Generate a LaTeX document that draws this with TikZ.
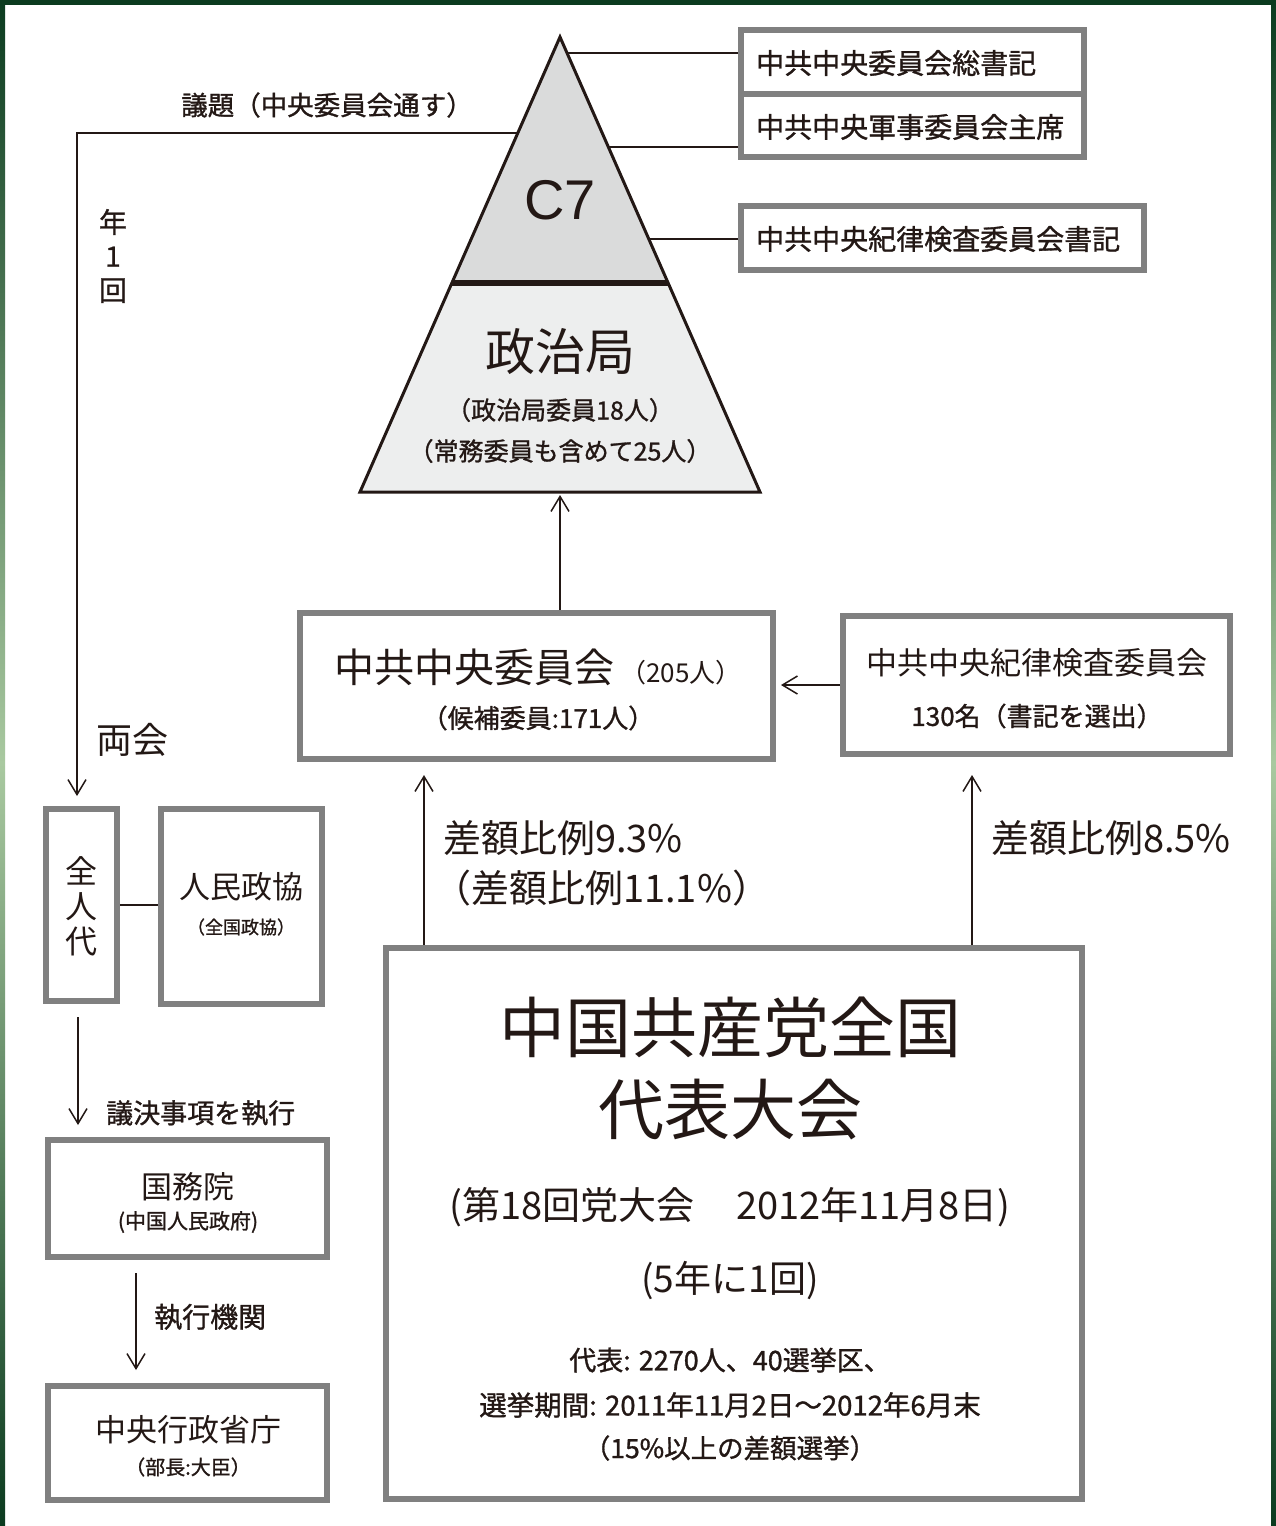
\documentclass[tikz,border=0pt]{standalone}
\usepackage{fontspec}
\newfontfamily\jp{Noto Sans CJK JP}
\newfontfamily\jpm[FakeBold=1.1]{Noto Sans CJK JP}
\newfontfamily\lat{Liberation Sans}
\usetikzlibrary{arrows.meta,calc}
\definecolor{ink}{HTML}{231815}
\definecolor{boxgray}{HTML}{808080}
\definecolor{dkgreen}{HTML}{0B3B1F}
\definecolor{ltgreen}{HTML}{A9C9A0}
\definecolor{c7fill}{HTML}{DADBDB}
\definecolor{pbfill}{HTML}{EDEEEE}
\newcommand{\setfs}[1]{\fontsize{#1}{#1}\selectfont}
\begin{document}
\begin{tikzpicture}[x=1pt,y=-1pt,
  gbox/.style={draw=boxgray, line width=6pt, fill=white, inner sep=0pt},
  conn/.style={draw=ink, line width=1.5pt},
  arr/.style={conn, -{Straight Barb[length=15pt,width=18pt]}},
  txt/.style={text=ink, inner sep=0pt},
]
\useasboundingbox (0,0) rectangle (1276,1526);
\fill[white] (0,0) rectangle (1276,1526);
\shade[top color=dkgreen, bottom color=dkgreen, middle color=ltgreen] (0,0) rectangle (5,1526);
\shade[top color=dkgreen, bottom color=dkgreen, middle color=ltgreen] (1271,0) rectangle (1276,1526);
\fill[dkgreen] (0,0) rectangle (1276,5);

% triangle
\coordinate (apex) at (560,37);
\coordinate (bl) at (360,492);
\coordinate (br) at (760,492);
\coordinate (dl) at (451.9,283);
\coordinate (dr) at (668.1,283);
\coordinate (tb) at (560,492);
\coordinate (t1) at (567,53);
\coordinate (t2) at (608.4,147);
\coordinate (t3) at (648.8,239);
\coordinate (tl) at (517.8,133);
\fill[c7fill] (apex) -- (dl) -- (dr) -- cycle;
\fill[pbfill] (dl) -- (bl) -- (br) -- (dr) -- cycle;
\draw[ink, line width=6pt] (dl) -- (dr);
\draw[ink, line width=3pt] (apex) -- (bl) -- (br) -- cycle;
\node[txt, font=\lat\setfs{56}] (c7) at (560,200) {C7};
\node[txt, font=\jp\setfs{50}] (pb) at (560,352) {政治局};
\node[txt, font=\jpm\setfs{25}] (pb1) at (560,410) {（政治局委員18人）};
\node[txt, font=\jpm\setfs{25}] (pb2) at (560,451) {（常務委員も含めて25人）};

% top-right boxes
\node[gbox, minimum width=343pt, minimum height=64pt] (sec) at (912.5,62) {};
\node[gbox, minimum width=343pt, minimum height=63pt] (cmc) at (912.5,125.5) {};
\node[gbox, minimum width=403pt, minimum height=64pt] (ccdi) at (942.5,238) {};
\draw[conn] (t1) -- (t1 -| sec.west);
\draw[conn] (t2) -- (t2 -| cmc.west);
\draw[conn] (t3) -- (t3 -| ccdi.west);
\node[txt, anchor=west, font=\jpm\setfs{28}] (secT) at (756,63) {中共中央委員会総書記};
\node[txt, anchor=west, font=\jpm\setfs{28}] (cmcT) at (756,127) {中共中央軍事委員会主席};
\node[txt, anchor=west, font=\jpm\setfs{28}] (ccdiT) at (756,239) {中共中央紀律検査委員会書記};

% left column boxes
\node[gbox, minimum width=71pt, minimum height=192pt] (zrd) at (81.5,905) {};
\node[txt, font=\jp\fontsize{32}{35}\selectfont, align=center] (zrdT) at (81,906) {全\\人\\代};
\node[gbox, minimum width=161pt, minimum height=195pt] (rmz) at (241.5,906.5) {};
\node[txt, font=\jp\setfs{31}] (rmzT) at (241,887) {人民政協};
\node[txt, font=\jpm\setfs{18}] (rmzS) at (241,927) {（全国政協）};
\node[gbox, minimum width=279pt, minimum height=117pt] (gwy) at (187.5,1198.5) {};
\node[txt, font=\jp\setfs{31}] (gwyT) at (188,1187) {国務院};
\node[txt, font=\jpm\setfs{21}] (gwyS) at (188,1222) {(中国人民政府)};
\node[gbox, minimum width=279pt, minimum height=114pt] (zyx) at (187.5,1443) {};
\node[txt, font=\jp\setfs{31}] (zyxT) at (188,1430) {中央行政省庁};
\node[txt, font=\jpm\setfs{20}] (zyxS) at (188,1467) {（部長:大臣）};

% left connectors
\draw[arr, shorten >=10pt] (tl) -| ([xshift=-4.5pt]zrd.north);
\node[txt, font=\jpm\setfs{26.5}] (yidai) at (327,105) {議題（中央委員会通す）};
\node[txt, font=\jpm\fontsize{28}{34}\selectfont, align=center] (nen) at (113,256) {年\\1\\回};
\node[txt, font=\jp\setfs{36}] (lh) at (132,740) {両会};
\draw[conn] (zrd.east) -- (zrd.east -| rmz.west);
\draw[arr, shorten <=13pt, shorten >=12pt] ([xshift=-3.5pt]zrd.south) -- ([xshift=-3.5pt]zrd.south |- gwy.north);
\node[txt, anchor=west, font=\jpm\setfs{27}] (yjue) at (106,1113) {議決事項を執行};
\draw[arr, shorten <=13pt, shorten >=13pt] ([xshift=-51.5pt]gwy.south) -- ([xshift=-51.5pt]zyx.north);
\node[txt, anchor=west, font=\jpm\setfs{28}] (zxjg) at (154,1317) {執行機関};

% central committee boxes
\node[gbox, minimum width=473pt, minimum height=146pt] (zzw) at (536.5,686) {};
\node[txt, font=\jp] (zzwT) at (538,667) {\setfs{40}中共中央委員会\hspace{6pt}{\setfs{26}（205人）}};
\node[txt, font=\jpm\setfs{26}] (zzwS) at (538,718) {（候補委員:171人）};
\node[gbox, minimum width=387pt, minimum height=138pt] (jl) at (1036.5,685) {};
\node[txt, font=\jp\setfs{31}] (jlT) at (1037,663) {中共中央紀律検査委員会};
\node[txt, font=\jpm\setfs{26}] (jlS) at (1037,716) {130名（書記を選出）};
\draw[arr, shorten >=3pt] (zzw.north -| tb) -- (tb);
\draw[arr, shorten >=5pt] (jl.west) -- (jl.west -| zzw.east);

% national congress
\node[gbox, minimum width=696pt, minimum height=551pt] (big) at (734,1223.5) {};
\draw[arr, shorten >=13pt] ([xshift=-310pt]big.north) -- ([xshift=-310pt]big.north |- zzw.south);
\draw[arr, shorten >=18pt] ([xshift=238pt]big.north) -- ([xshift=238pt]big.north |- jl.south);
\node[txt, anchor=west, font=\jp\setfs{38}] (r1) at (443,838) {差額比例9.3\%};
\node[txt, anchor=west, font=\jp\setfs{38}] (r2) at (433,888) {（差額比例11.1\%）};
\node[txt, anchor=west, font=\jp\setfs{38}] (r3) at (991,838) {差額比例8.5\%};
\node[txt, font=\jp\setfs{66}] (bigT1) at (730,1027) {中国共産党全国};
\node[txt, font=\jp\setfs{66}] (bigT2) at (730,1110) {代表大会};
\node[txt, font=\jp\setfs{38}] (bigT3) at (730,1207) {(第18回党大会\hspace{42pt}2012年11月8日)};
\node[txt, font=\jp\setfs{37}] (bigT4) at (730,1280) {(5年に1回)};
\node[txt, font=\jpm\setfs{27}] (bigT5) at (730,1360) {代表: 2270人、40選挙区、};
\node[txt, font=\jpm\setfs{27.5}] (bigT6) at (730,1405) {選挙期間: 2011年11月2日〜2012年6月末};
\node[txt, font=\jpm\setfs{26.5}] (bigT7) at (730,1448) {（15\%以上の差額選挙）};
\end{tikzpicture}
\end{document}
